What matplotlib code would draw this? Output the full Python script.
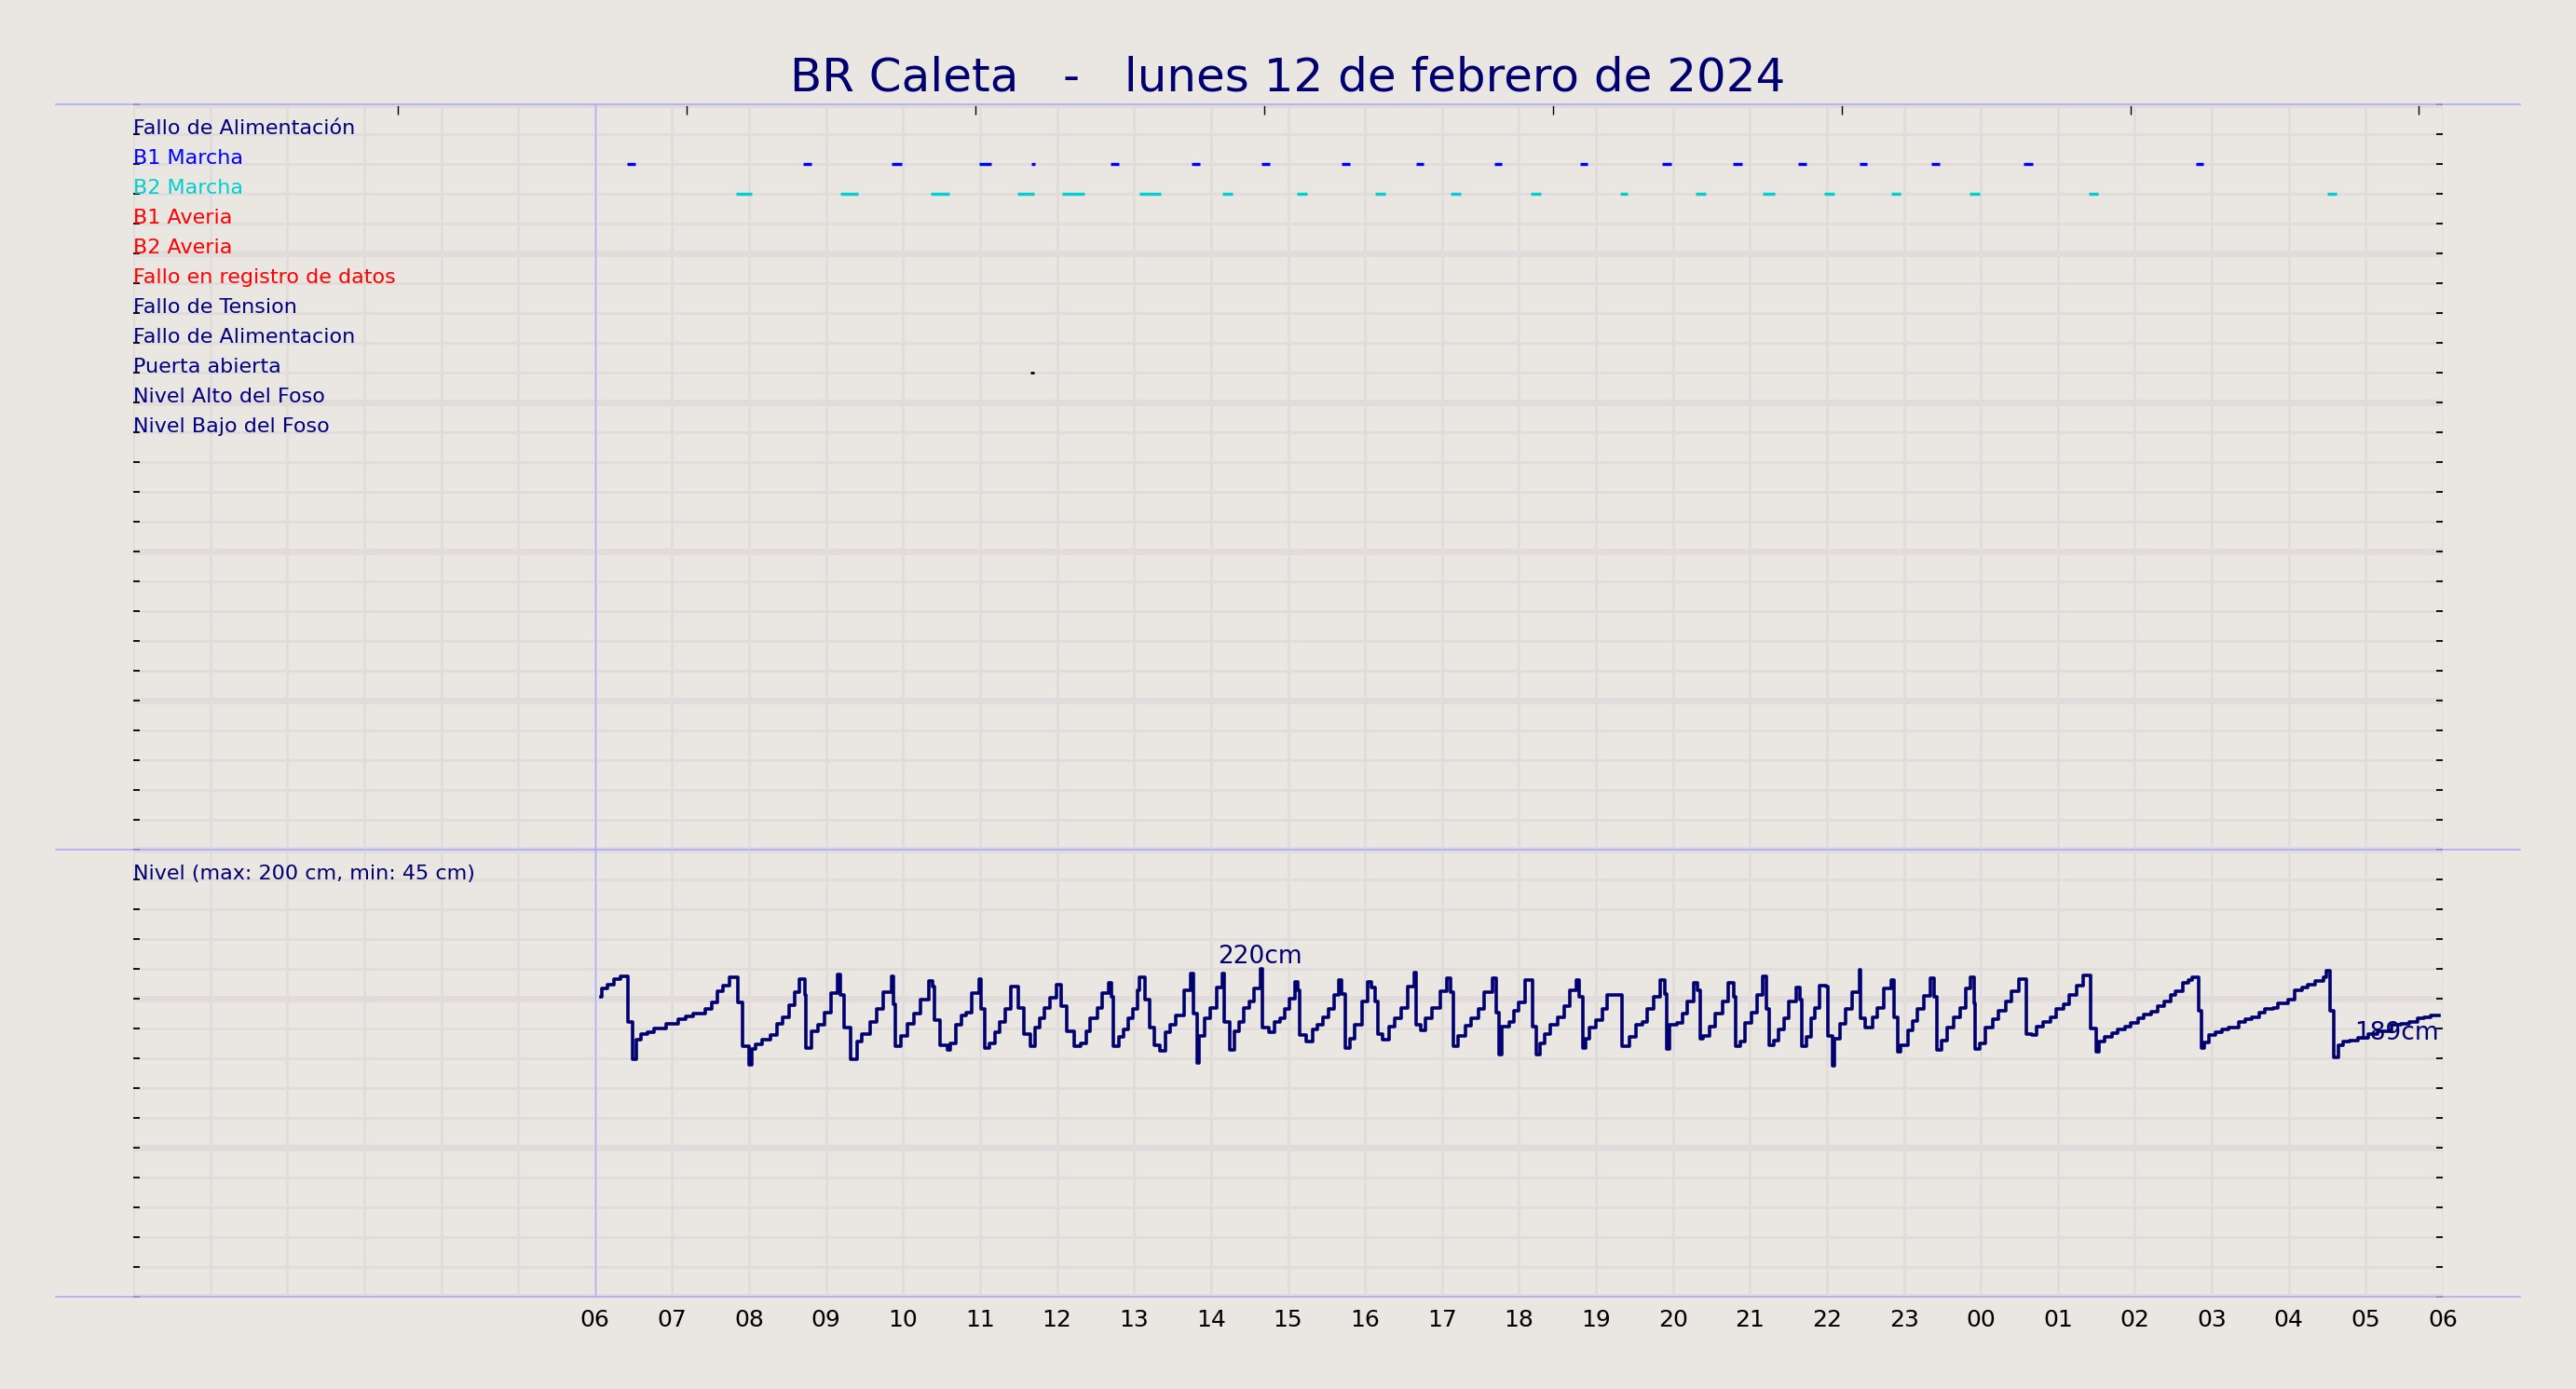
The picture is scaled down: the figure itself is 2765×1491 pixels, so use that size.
import matplotlib
matplotlib.use("Agg")
import matplotlib.pyplot as plt
from matplotlib.lines import Line2D
import numpy as np

# ---------------- data ----------------
title = "BR Caleta   -   lunes 12 de febrero de 2024"

row_labels = ["Fallo de Alimentación", "B1 Marcha", "B2 Marcha", "B1 Averia", "B2 Averia",
              "Fallo en registro de datos", "Fallo de Tension", "Fallo de Alimentacion",
              "Puerta abierta", "Nivel Alto del Foso", "Nivel Bajo del Foso"]
row_colors = ["navy", "blue", "darkturquoise", "red", "red", "red",
              "navy", "navy", "navy", "navy", "navy"]

level_label = "Nivel (max: 200 cm, min: 45 cm)"

# pump / door events (hours from 00:00 of 12 Feb)
b1_start = [6.41, 8.70, 9.85, 10.99, 11.66, 12.70, 13.75, 14.65, 15.70, 16.66, 17.68,
            18.79, 19.86, 20.78, 21.62, 22.42, 23.36, 24.56, 26.79]
b1_end = [6.52, 8.81, 9.98, 11.14, 11.72, 12.80, 13.86, 14.76, 15.80, 16.76, 17.78,
          18.89, 19.98, 20.90, 21.73, 22.52, 23.47, 24.67, 26.89]
b2_start = [7.83, 9.18, 10.36, 11.48, 12.06, 13.07, 14.15, 15.12, 16.13, 17.11, 18.15,
            19.32, 20.29, 21.17, 21.97, 22.83, 23.85, 25.40, 28.50]
b2_end = [8.03, 9.41, 10.60, 11.70, 12.35, 13.35, 14.28, 15.25, 16.26, 17.24, 18.28,
          19.41, 20.43, 21.32, 22.10, 22.96, 23.98, 25.52, 28.62]
door_start = [11.65]
door_end = [11.70]

level_hours = [
    6.07, 6.09, 6.16, 6.25, 6.33, 6.43, 6.49, 6.54, 6.59, 6.68, 6.76, 6.92, 7.08, 7.18, 7.27,
    7.43, 7.51, 7.59, 7.66, 7.75, 7.85, 7.91, 8.00, 8.03, 8.08, 8.17, 8.28, 8.36, 8.43, 8.52,
    8.59, 8.65, 8.72, 8.74, 8.81, 8.89, 8.98, 9.06, 9.15, 9.19, 9.23, 9.32, 9.40, 9.46, 9.57,
    9.66, 9.74, 9.85, 9.87, 9.90, 9.97, 10.06, 10.14, 10.23, 10.33, 10.38, 10.41, 10.48, 10.58,
    10.61, 10.69, 10.76, 10.82, 10.89, 10.99, 11.01, 11.06, 11.12, 11.19, 11.25, 11.33, 11.40,
    11.50, 11.57, 11.65, 11.71, 11.78, 11.84, 11.91, 11.99, 12.05, 12.12, 12.22, 12.31, 12.38,
    12.43, 12.52, 12.59, 12.67, 12.71, 12.73, 12.80, 12.86, 12.93, 12.99, 13.05, 13.07, 13.14,
    13.20, 13.26, 13.33, 13.41, 13.47, 13.54, 13.65, 13.73, 13.77, 13.82, 13.85, 13.92, 13.99,
    14.07, 14.15, 14.17, 14.24, 14.30, 14.37, 14.43, 14.50, 14.56, 14.64, 14.67, 14.75, 14.83,
    14.90, 14.96, 15.02, 15.09, 15.13, 15.15, 15.24, 15.32, 15.38, 15.45, 15.53, 15.60, 15.66,
    15.70, 15.75, 15.81, 15.87, 15.96, 16.04, 16.08, 16.13, 16.17, 16.23, 16.31, 16.38, 16.47,
    16.55, 16.64, 16.66, 16.72, 16.79, 16.87, 16.98, 17.06, 17.11, 17.15, 17.21, 17.30, 17.38,
    17.47, 17.55, 17.66, 17.70, 17.74, 17.78, 17.87, 17.94, 17.99, 18.08, 18.18, 18.23, 18.27,
    18.33, 18.41, 18.50, 18.59, 18.66, 18.74, 18.78, 18.83, 18.87, 18.91, 19.00, 19.09, 19.15,
    19.34, 19.43, 19.52, 19.60, 19.67, 19.75, 19.83, 19.89, 19.92, 19.95, 20.05, 20.12, 20.19,
    20.27, 20.32, 20.35, 20.39, 20.48, 20.55, 20.64, 20.72, 20.79, 20.82, 20.88, 20.94, 21.02,
    21.09, 21.17, 21.21, 21.25, 21.31, 21.37, 21.44, 21.51, 21.60, 21.65, 21.67, 21.74, 21.80,
    21.84, 21.91, 21.99, 22.01, 22.07, 22.10, 22.17, 22.24, 22.33, 22.42, 22.44, 22.50, 22.59,
    22.66, 22.74, 22.83, 22.87, 22.92, 22.96, 23.05, 23.11, 23.17, 23.26, 23.35, 23.39, 23.43,
    23.49, 23.56, 23.65, 23.73, 23.80, 23.86, 23.91, 23.93, 23.99, 24.06, 24.15, 24.23, 24.32,
    24.40, 24.49, 24.59, 24.66, 24.72, 24.81, 24.90, 24.98, 25.07, 25.15, 25.24, 25.33, 25.43,
    25.50, 25.54, 25.61, 25.70, 25.78, 25.87, 25.95, 26.04, 26.12, 26.21, 26.30, 26.38, 26.47,
    26.53, 26.62, 26.70, 26.75, 26.83, 26.86, 26.90, 26.96, 27.05, 27.13, 27.22, 27.30, 27.35,
    27.43, 27.52, 27.61, 27.69, 27.80, 27.86, 27.99, 28.08, 28.17, 28.25, 28.34, 28.45, 28.49,
    28.53, 28.58, 28.64, 28.71, 28.79, 28.90, 29.03, 29.15, 29.33, 29.46, 29.57, 29.67, 29.76,
    29.84, 29.91, 29.95]
level_cm = [
    201.0, 206.9, 209.4, 213.0, 215.0, 184.4, 159.4, 172.5, 176.2, 177.5, 180.0, 183.3, 186.2, 188.3, 190.2,
    193.3, 197.5, 204.8, 208.5, 214.4, 197.5, 168.0, 155.6, 166.2, 169.4, 172.5, 175.6, 183.1, 187.5, 195.6,
    204.4, 213.1, 202.3, 166.9, 178.3, 182.5, 190.8, 204.0, 216.5, 202.3, 180.4, 159.6, 171.0, 176.3, 184.6,
    193.3, 204.4, 214.8, 196.0, 167.9, 175.2, 182.9, 189.8, 199.2, 211.7, 207.9, 185.6, 169.0, 165.8,
    170.0, 182.5, 188.8, 190.8, 204.0, 213.3, 193.3, 166.9, 170.0, 177.3, 184.6, 193.3, 207.9,
    194.0, 176.3, 168.3, 180.4, 186.7, 194.0, 200.8, 209.6, 195.0, 178.3, 167.9, 170.0, 178.3,
    186.7, 194.0, 204.0, 210.6, 201.3, 167.9, 174.2, 179.4, 186.7, 192.9, 205.4, 214.4, 199.2,
    180.4, 169.0, 165.2, 177.3, 182.5, 188.8, 205.4, 216.9, 189.8, 157.1, 175.2, 186.7, 194.0,
    207.5, 216.9, 184.6, 165.8, 178.3, 184.6, 194.0, 198.1, 207.1, 220.0, 180.4, 177.3, 184.6,
    187.1, 192.9, 200.2, 211.3, 205.4, 175.8, 171.0, 179.4, 182.5, 187.7, 192.9, 202.3, 212.7,
    203.3, 166.9, 173.1, 182.5, 198.1, 211.3, 207.5, 198.1, 176.3, 172.5, 181.5, 186.7, 194.0,
    207.9, 217.5, 182.5, 178.8, 187.1, 194.0, 205.0, 213.8, 204.4, 168.3, 175.2, 181.9, 186.7,
    192.9, 204.4, 213.8, 190.8, 162.3, 181.5, 184.6, 191.9, 197.5, 212.7, 181.5, 162.7, 170.0,
    176.3, 182.5, 187.7, 195.0, 205.4, 212.7, 201.3, 166.9, 173.1, 180.4, 185.6, 192.9, 202.7,
    168.3, 174.2, 182.5, 184.6, 192.9, 201.3, 212.7, 203.3, 166.3, 182.5, 183.5, 189.8, 198.1,
    210.6, 205.4, 173.1, 175.2, 181.5, 189.8, 198.1, 210.6, 201.3, 167.9, 171.0, 183.5, 190.8,
    202.3, 214.8, 193.3, 169.0, 172.1, 179.4, 186.7, 198.1, 207.5, 199.6, 168.3, 174.2, 186.7,
    194.0, 209.0, 207.9, 175.2, 154.8, 173.1, 182.9, 193.3, 204.4, 219.5, 186.7, 180.4, 187.7,
    194.0, 207.1, 212.7, 187.7, 164.4, 169.0, 178.8, 185.0, 192.9, 201.9, 213.8, 201.3, 165.8,
    172.1, 180.4, 187.7, 194.0, 207.1, 214.4, 197.1, 166.5, 170.0, 180.4, 186.0, 191.9, 198.1,
    205.0, 213.3, 176.3, 175.8, 181.5, 184.6, 187.7, 192.9, 196.0, 202.3, 208.5, 215.4, 180.0,
    164.4, 171.0, 174.2, 176.7, 179.4, 181.5, 184.0, 186.7, 189.2, 191.3, 195.0, 198.1, 202.3,
    204.8, 210.6, 212.7, 214.2, 191.9, 166.9, 170.4, 175.8, 177.3, 179.4, 180.4, 180.8, 184.6,
    186.3, 187.7, 190.8, 193.3, 194.0, 196.7, 199.6, 205.4, 207.5, 209.6, 211.7, 214.2, 219.0,
    191.9, 160.6, 169.0, 171.0, 172.1, 173.5, 176.3, 178.3, 182.5, 182.9, 184.6, 186.7, 187.7,
    188.8, 189.0, 189.0]

hour_labels = ["06", "07", "08", "09", "10", "11", "12", "13", "14", "15", "16", "17", "18",
               "19", "20", "21", "22", "23", "00", "01", "02", "03", "04", "05", "06"]
top_tick_hours = [3.44, 7.19, 10.94, 14.69, 18.44, 22.19, 25.94, 29.69]

# ---------------- style ----------------
BG = "#eae6e1"
GRID = "#e1dcdb"
FRAME = "#aaaaff"
NAVY = "#000070"

W, H = 2765, 1491
fig = plt.figure(figsize=(W / 100, H / 100), dpi=100, facecolor=BG)

left, right = 143 / W, 2622 / W
y_top, y_mid, y_bot = 1 - 112 / H, 1 - 912 / H, 1 - 1392 / H
ax1 = fig.add_axes([left, y_mid, right - left, y_top - y_mid])
ax2 = fig.add_axes([left, y_bot, right - left, y_mid - y_bot])

n_rows_top = 25
for ax in (ax1, ax2):
    ax.set_facecolor(BG)
    ax.set_xlim(0, 30)
    for s in ax.spines.values():
        s.set_visible(False)
    ax.set_xticks(np.arange(0, 31))
    ax.grid(True, which="major", color=GRID, lw=2.0, zorder=0)
    ax.set_axisbelow(True)
    ax.tick_params(axis="y", which="major", left=True, right=True, direction="in",
                   length=5, width=1.3, color="black", labelleft=False)

# top panel
ax1.set_ylim(n_rows_top, 0)
ax1.set_yticks(np.arange(0, n_rows_top + 1))
for y in range(0, n_rows_top + 1, 5):
    ax1.axhline(y, color=GRID, lw=5, zorder=0.5)
ax1.tick_params(axis="x", which="major", bottom=False, top=False, labelbottom=False, length=0)
ax1.set_xticks(top_tick_hours, minor=True)
ax1.tick_params(axis="x", which="minor", bottom=False, top=True, direction="in",
                length=8, width=1.0, color="black")

for i, (lab, c) in enumerate(zip(row_labels, row_colors)):
    ax1.text(0, i + 1, lab, color=c, fontsize=16, ha="left", va="baseline", zorder=5)

ax1.hlines([2] * len(b1_start), b1_start, b1_end, colors="blue", lw=2.4, zorder=4, capstyle="butt")
ax1.hlines([3] * len(b2_start), b2_start, b2_end, colors="darkturquoise", lw=2.4, zorder=4, capstyle="butt")
ax1.hlines([9] * len(door_start), door_start, door_end, colors="black", lw=2.0, zorder=4, capstyle="butt")

# bottom panel
ax2.set_ylim(0, 300)
ax2.set_yticks(np.arange(0, 301, 20))
for y in range(0, 301, 100):
    ax2.axhline(y, color=GRID, lw=5, zorder=0.5)
ax2.set_xticklabels([""] * 6 + hour_labels)
ax2.tick_params(axis="x", which="major", bottom=True, top=False, length=0, pad=9,
                labelsize=18, labelcolor="black")
ax2.tick_params(axis="x", which="minor", bottom=False, top=False)

ax2.text(0, 280, level_label, color=NAVY, fontsize=16, ha="left", va="baseline", zorder=5)
ax2.plot(level_hours, level_cm, drawstyle="steps-post", color=NAVY, lw=2.6, zorder=4)

imax = int(np.argmax(level_cm))
ax2.text(level_hours[imax], level_cm[imax], f"{level_cm[imax]:.0f}cm", ha="center", va="bottom",
         fontsize=19, color=NAVY, zorder=6)
ax2.text(level_hours[-1], level_cm[-1] - 4, f"{level_cm[-1]:.0f}cm", ha="right", va="top",
         fontsize=19, color=NAVY, zorder=6)

# start-of-day marker
for ax in (ax1, ax2):
    ax.axvline(6, color=FRAME, lw=1.0, zorder=3)

# blue frame lines
for yf in (y_top, y_mid, y_bot):
    fig.add_artist(Line2D([60 / W, 2705 / W], [yf, yf], color=FRAME, lw=1.2,
                          transform=fig.transFigure, zorder=10))

fig.text(0.5, 1 - 97 / H, title, ha="center", va="baseline", fontsize=36, color=NAVY)

fig.savefig("out.png", dpi=100, facecolor=BG)
